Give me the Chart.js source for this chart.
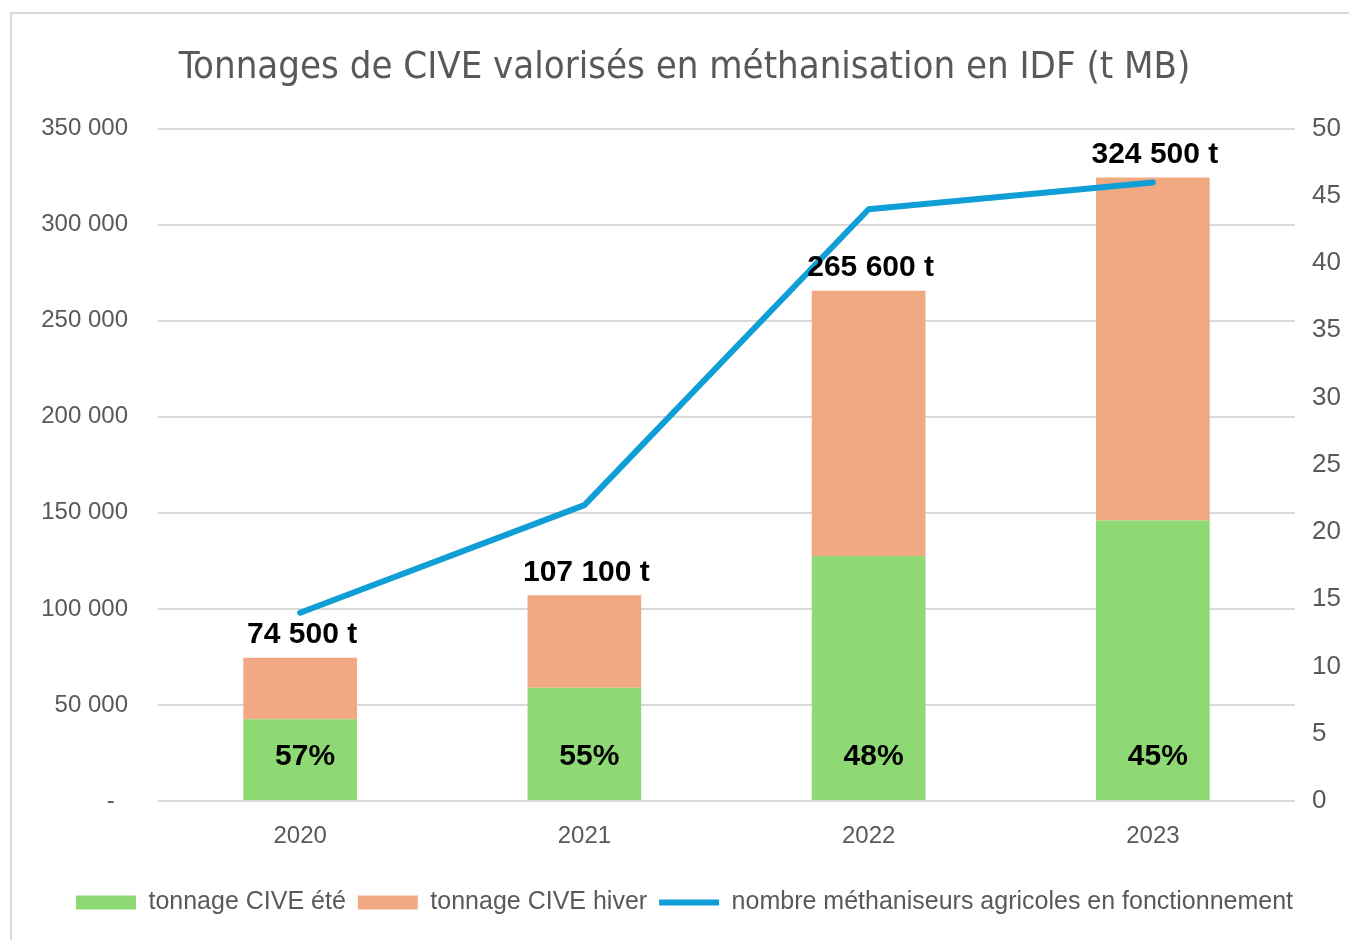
<!DOCTYPE html>
<html>
<head>
<meta charset="utf-8">
<script src="https://cdn.jsdelivr.net/npm/chart.js@4.4.1/dist/chart.umd.min.js"></script>
<style>
html,body{margin:0;padding:0;background:#fff;}
#wrap{width:1349px;height:940px;position:relative;}
</style>
</head>
<body>
<div id="wrap"><canvas id="c" width="1349" height="940"></canvas></div>
<script>
const categories = ['2020', '2021', '2022', '2023'];
const summerTonnage = [42500, 58900, 127500, 146000];
const winterTonnage = [32000, 48200, 138100, 178500];
const methanizerCount = [14, 22, 44, 46];
const leftTicks = [0, 50000, 100000, 150000, 200000, 250000, 300000, 350000];
const rightTicks = [0, 5, 10, 15, 20, 25, 30, 35, 40, 45, 50];

const GREY = '#595959';
const fmt = n => String(n).replace(/\B(?=(\d{3})+(?!\d))/g, ' ');

const labelPlugin = {
  id: 'barLabels',
  afterDatasetsDraw(chart) {
    const ctx = chart.ctx;
    const x = chart.scales.x, y = chart.scales.y;
    ctx.save();
    ctx.fillStyle = '#000';
    ctx.textAlign = 'center';
    ctx.textBaseline = 'middle';
    ctx.font = 'bold 30px "Liberation Sans", Arial, sans-serif';
    categories.forEach((c, i) => {
      const total = summerTonnage[i] + winterTonnage[i];
      const px = x.getPixelForValue(i);
      ctx.fillText(fmt(total) + ' t', px + 2, y.getPixelForValue(total) - 23);
      const pct = Math.round(summerTonnage[i] / total * 100) + '%';
      ctx.fillText(pct, px + 5, y.getPixelForValue(0) - 44);
    });
    ctx.restore();
  }
};

const framePlugin = {
  id: 'frame',
  beforeDraw(chart) {
    const ctx = chart.ctx;
    ctx.save();
    ctx.fillStyle = '#fff';
    ctx.fillRect(0, 0, chart.width, chart.height);
    ctx.strokeStyle = '#D9D9D9';
    ctx.lineWidth = 2;
    ctx.strokeRect(11, 13, chart.width + 20, chart.height + 20);
    ctx.restore();
  }
};

new Chart(document.getElementById('c'), {
  data: {
    labels: categories,
    datasets: [
      {
        type: 'line',
        label: 'nombre méthaniseurs agricoles en fonctionnement',
        data: methanizerCount,
        yAxisID: 'y1',
        borderColor: '#0F9ED5',
        backgroundColor: '#0F9ED5',
        borderWidth: 6,
        borderCapStyle: 'round',
        borderJoinStyle: 'round',
        pointRadius: 0,
        pointStyle: 'line',
        tension: 0,
        order: 0,
        stack: 'line'
      },
      {
        type: 'bar',
        label: 'tonnage CIVE été',
        data: summerTonnage,
        yAxisID: 'y',
        backgroundColor: '#8ED973',
        pointStyle: 'rect',
        categoryPercentage: 0.8,
        barPercentage: 0.5,
        order: 1,
        stack: 'bars'
      },
      {
        type: 'bar',
        label: 'tonnage CIVE hiver',
        data: winterTonnage,
        yAxisID: 'y',
        backgroundColor: '#F1A983',
        pointStyle: 'rect',
        categoryPercentage: 0.8,
        barPercentage: 0.5,
        order: 1,
        stack: 'bars'
      }
    ]
  },
  options: {
    responsive: false,
    animation: false,
    devicePixelRatio: 1,
    layout: { padding: { left: 20, right: 0, top: 0, bottom: 15 } },
    plugins: {
      title: {
        display: true,
        text: 'Tonnages de CIVE valorisés en méthanisation en IDF (t MB)',
        color: GREY,
        font: { family: '"Liberation Sans Narrow", "DejaVu Sans Condensed", sans-serif', size: 38, weight: 'normal' },
        padding: { top: 45, bottom: 38 }
      },
      legend: {
        position: 'bottom',
        labels: {
          color: GREY,
          font: { family: '"Liberation Sans", Arial, sans-serif', size: 25 },
          usePointStyle: true,
          pointStyleWidth: 60,
          boxHeight: 14,
          padding: 12,
          sort: (a, b) => [1, 2, 0].indexOf(a.datasetIndex) - [1, 2, 0].indexOf(b.datasetIndex)
        }
      },
      tooltip: { enabled: false }
    },
    scales: {
      x: {
        stacked: true,
        offset: true,
        grid: { display: false, drawTicks: false },
        border: { display: false },
        ticks: { color: GREY, font: { family: '"Liberation Sans", Arial, sans-serif', size: 24 }, padding: 21 },
        afterFit(s) { s.height = 77; }
      },
      y: {
        stacked: true,
        position: 'left',
        min: 0, max: 350000,
        afterBuildTicks(s) { s.ticks = leftTicks.map(v => ({ value: v })); },
        grid: { color: '#D9D9D9', lineWidth: 2, drawTicks: false },
        border: { display: false },
        ticks: {
          color: GREY,
          font: { family: '"Liberation Sans", Arial, sans-serif', size: 24 },
          padding: 30,
          callback: v => v === 0 ? '-  ' : fmt(v)
        },
        afterFit(s) { s.width = 138; }
      },
      y1: {
        position: 'right',
        min: 0, max: 50,
        afterBuildTicks(s) { s.ticks = rightTicks.map(v => ({ value: v })); },
        grid: { display: false, drawTicks: false },
        border: { display: false },
        ticks: {
          color: GREY,
          font: { family: '"Liberation Sans", Arial, sans-serif', size: 26 },
          padding: 17
        },
        afterFit(s) { s.width = 54; }
      }
    }
  },
  plugins: [framePlugin, labelPlugin]
});
</script>
</body>
</html>
